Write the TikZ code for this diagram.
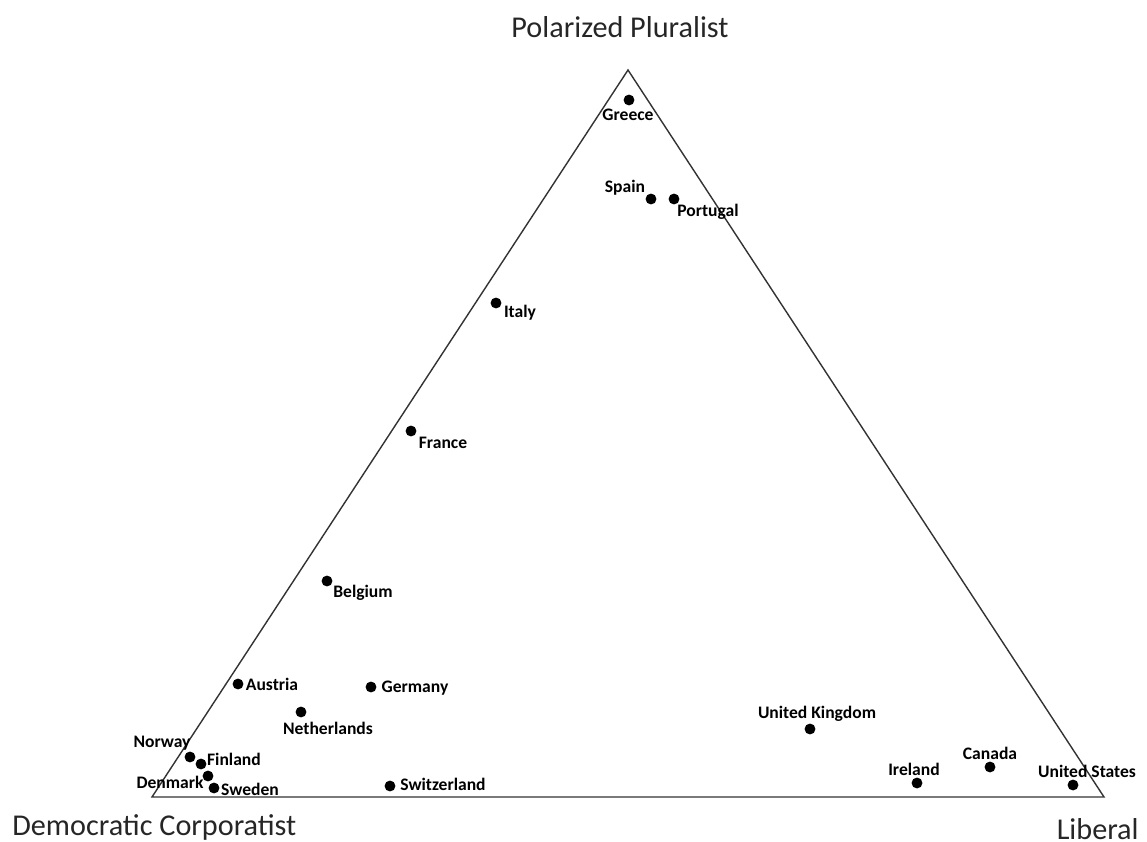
\documentclass[tikz,border=0pt]{standalone}
\usepackage{fontspec}
\setmainfont{Carlito}
\usetikzlibrary{positioning}

\begin{document}
\begin{tikzpicture}[
  x=0.02cm, y=-0.02cm,
  country/.style={circle, fill=black, inner sep=0pt, minimum size=6.2pt},
  clabel/.style={inner sep=0pt, font=\fontsize{10}{12}\selectfont\bfseries},
  corner/.style={inner sep=0pt, font=\fontsize{17.2}{20}\selectfont, text=black!85}
]
  \useasboundingbox (0,0) rectangle (1147,842);

  % Triangle
  \coordinate (pp) at (628,70);
  \coordinate (dc) at (152,797);
  \coordinate (lib) at (1104,797);
  \draw[black!80, line width=0.8pt] (pp) -- (dc) -- (lib) -- cycle;

  % Corner titles
  \node[corner] (tPP) at (620,27) {Polarized Pluralist};
  \node[corner, anchor=west] (tDC) at (12,827) {Democratic Corporatist};
  \node[corner, anchor=east] (tLib) at (1139,829) {Liberal};

  % Countries
  \node[country] (greece) at (629,100) {};
  \node[country] (spain) at (651,199) {};
  \node[country] (portugal) at (674,199) {};
  \node[country] (italy) at (496,303) {};
  \node[country] (france) at (411,431) {};
  \node[country] (belgium) at (327,581) {};
  \node[country] (austria) at (238,684) {};
  \node[country] (germany) at (371,687) {};
  \node[country] (netherlands) at (301,712) {};
  \node[country] (norway) at (190,757) {};
  \node[country] (finland) at (201,764) {};
  \node[country] (denmark) at (208,776) {};
  \node[country] (sweden) at (214,788) {};
  \node[country] (switzerland) at (390,786) {};
  \node[country] (uk) at (810,729) {};
  \node[country] (ireland) at (917,783) {};
  \node[country] (canada) at (990,767) {};
  \node[country] (us) at (1073,785) {};

  % Labels
  \node[clabel] (lGreece) at (628,115) {Greece};
  \node[clabel] (lSpain) at (625,188) {Spain};
  \node[clabel] (lPortugal) at (708,212) {Portugal};
  \node[clabel] (lItaly) at (520,313) {Italy};
  \node[clabel] (lFrance) at (443,443) {France};
  \node[clabel] (lBelgium) at (363,593) {Belgium};
  \node[clabel] (lAustria) at (272,684) {Austria};
  \node[clabel] (lGermany) at (415,688) {Germany};
  \node[clabel] (lNetherlands) at (328,728) {Netherlands};
  \node[clabel] (lNorway) at (162,743) {Norway};
  \node[clabel] (lFinland) at (234,759) {Finland};
  \node[clabel] (lDenmark) at (170,782) {Denmark};
  \node[clabel] (lSweden) at (250,789) {Sweden};
  \node[clabel] (lSwitzerland) at (443,784) {Switzerland};
  \node[clabel] (lUK) at (817,714) {United Kingdom};
  \node[clabel] (lIreland) at (914,769) {Ireland};
  \node[clabel] (lCanada) at (990,753) {Canada};
  \node[clabel] (lUS) at (1087,771) {United States};
\end{tikzpicture}
\end{document}
